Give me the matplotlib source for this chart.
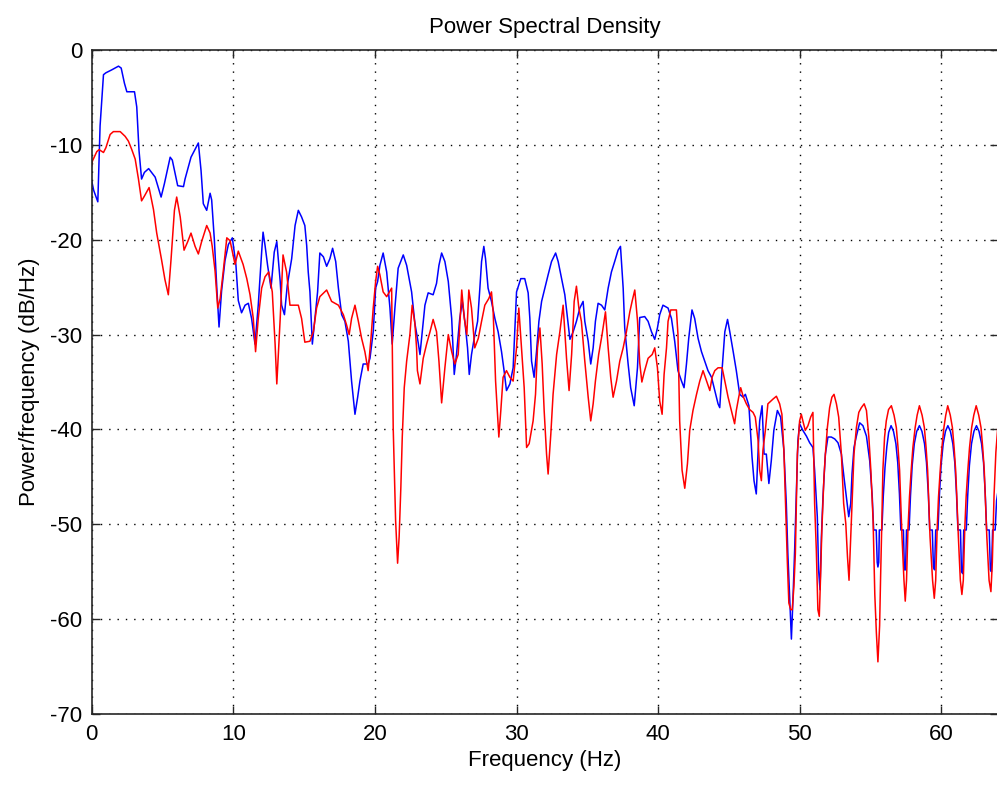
import matplotlib
matplotlib.use("Agg")
import matplotlib.pyplot as plt

# PSD estimates of the two channels, frequency in Hz, power in dB/Hz
blue_freq = [
    0.0, 0.14, 0.43, 0.59, 0.83, 1.0, 1.4, 1.89, 2.08, 2.31, 2.48, 3.02, 3.18, 3.34,
    3.52, 3.72, 4.02, 4.48, 4.9, 5.13, 5.54, 5.69, 6.07, 6.48, 6.59, 7.01, 7.53, 7.72,
    7.88, 8.12, 8.36, 8.47, 8.66, 8.83, 8.99, 9.17, 9.41, 9.65, 9.93, 10.18, 10.35,
    10.58, 10.83, 11.06, 11.29, 11.53, 11.76, 12.0, 12.1, 12.24, 12.42, 12.66, 12.89,
    13.07, 13.31, 13.41, 13.61, 13.81, 14.12, 14.36, 14.59, 14.82, 15.05, 15.18, 15.29,
    15.41, 15.58, 15.76, 15.95, 16.11, 16.36, 16.59, 16.82, 17.01, 17.23, 17.42, 17.65,
    17.88, 18.12, 18.35, 18.59, 18.78, 18.94, 19.17, 19.52, 19.65, 19.88, 20.05, 20.19,
    20.35, 20.58, 20.83, 21.06, 21.22, 21.41, 21.64, 22.0, 22.24, 22.59, 22.82, 23.06,
    23.18, 23.34, 23.53, 23.76, 24.11, 24.35, 24.52, 24.71, 24.94, 25.18, 25.42, 25.6,
    25.76, 25.99, 26.17, 26.35, 26.54, 26.66, 26.82, 27.01, 27.25, 27.41, 27.53, 27.69,
    27.81, 27.99, 28.23, 28.47, 28.7, 28.94, 29.12, 29.29, 29.53, 29.76, 30.0, 30.3,
    30.58, 30.82, 30.94, 31.06, 31.24, 31.41, 31.58, 31.77, 32.0, 32.23, 32.47, 32.76,
    32.94, 33.18, 33.41, 33.6, 33.77, 34.0, 34.23, 34.47, 34.7, 34.82, 35.06, 35.24,
    35.41, 35.57, 35.76, 36.0, 36.23, 36.47, 36.7, 36.93, 37.17, 37.34, 37.53, 37.64,
    37.88, 38.06, 38.31, 38.54, 38.7, 39.05, 39.29, 39.53, 39.76, 39.95, 40.11, 40.34,
    40.7, 40.94, 41.17, 41.4, 41.65, 41.83, 42.0, 42.16, 42.39, 42.58, 42.82, 43.06,
    43.29, 43.52, 43.77, 44.0, 44.23, 44.35, 44.51, 44.71, 44.9, 45.06, 45.3, 45.52,
    45.76, 46.0, 46.16, 46.41, 46.63, 46.77, 46.93, 47.06, 47.17, 47.34, 47.48, 47.64,
    47.82, 47.99, 48.17, 48.42, 48.65, 48.88, 49.05, 49.16, 49.29, 49.41, 49.52, 49.64,
    49.76, 49.87, 49.99, 50.22, 50.47, 50.7, 50.93, 51.05, 51.24, 51.33, 51.43, 51.53,
    51.64, 51.81, 51.99, 52.23, 52.47, 52.7, 52.94, 53.12, 53.29, 53.46, 53.6, 53.69,
    53.83, 54.0, 54.23, 54.46, 54.71, 54.94, 55.12, 55.22, 55.4, 55.47, 55.52, 55.58,
    55.62, 55.8, 55.9, 56.02, 56.15, 56.28, 56.45, 56.62, 56.79, 56.92, 57.04, 57.14,
    57.32, 57.39, 57.47, 57.54, 57.72, 57.82, 57.94, 58.09, 58.26, 58.45, 58.63, 58.81,
    58.95, 59.08, 59.18, 59.36, 59.44, 59.52, 59.6, 59.76, 59.86, 59.98, 60.13, 60.29,
    60.46, 60.64, 60.81, 60.95, 61.07, 61.17, 61.35, 61.42, 61.51, 61.58, 61.76, 61.86,
    61.98, 62.13, 62.3, 62.48, 62.66, 62.84, 62.98, 63.1, 63.2, 63.38, 63.46, 63.54,
    63.62, 63.8, 63.9, 64.0,
]
blue_psd = [
    -13.8, -14.8, -16.0, -8.0, -2.6, -2.4, -2.1, -1.7, -1.9, -3.5, -4.4, -4.4, -6.0, -10.6,
    -13.6, -12.9, -12.5, -13.4, -15.5, -14.1, -11.3, -11.6, -14.3, -14.4, -13.6, -11.3, -9.8, -12.7,
    -16.2, -16.9, -15.1, -15.8, -20.0, -25.0, -29.2, -25.4, -22.2, -20.5, -19.8, -22.6, -26.4,
    -27.7, -26.9, -26.7, -28.3, -31.0, -26.9, -21.3, -19.2, -20.6, -22.7, -25.1, -21.3,
    -20.2, -24.4, -26.9, -27.9, -24.8, -22.0, -18.5, -16.9, -17.6, -18.5, -20.6, -23.4,
    -25.5, -31.0, -28.3, -25.5, -21.4, -21.8, -22.8, -22.0, -20.9, -22.3, -25.1, -27.9,
    -28.6, -30.7, -34.9, -38.4, -36.6, -34.9, -33.1, -33.1, -32.5, -29.7, -25.1, -24.4,
    -22.7, -21.4, -23.4, -27.2, -31.0, -27.2, -23.0, -21.6, -22.7, -25.5, -28.8, -30.9,
    -32.1, -29.7, -26.9, -25.6, -25.8, -24.6, -22.7, -21.4, -22.3, -24.4, -28.3, -34.2,
    -32.1, -28.3, -26.5, -28.6, -31.4, -34.2, -32.1, -30.4, -28.6, -25.1, -22.3, -20.7,
    -22.0, -25.1, -26.5, -28.3, -29.7, -31.8, -33.8, -35.9, -35.2, -33.5, -25.5, -24.1,
    -24.1, -25.6, -28.3, -32.8, -34.5, -31.8, -28.6, -26.5, -25.1, -23.7, -22.3, -21.4,
    -22.3, -24.1, -25.8, -28.3, -30.5, -29.7, -28.6, -27.2, -26.5, -28.6, -30.7, -33.1,
    -31.4, -28.6, -26.7, -26.9, -27.4, -25.1, -23.4, -22.3, -21.1, -20.7, -25.1, -29.3,
    -33.1, -35.6, -37.5, -33.5, -28.2, -28.1, -28.6, -29.7, -30.5, -29.3, -27.9, -26.9,
    -27.2, -28.3, -30.7, -33.8, -34.9, -35.6, -33.1, -30.4, -27.4, -28.3, -30.4, -31.8,
    -32.8, -33.8, -34.5, -35.9, -37.3, -37.7, -33.8, -29.7, -28.4, -29.7, -31.8, -33.8,
    -36.3, -36.6, -36.3, -37.5, -42.9, -45.4, -46.8, -42.2, -39.1, -37.5, -42.6, -42.6,
    -45.7, -43.3, -40.1, -38.0, -38.7, -42.2, -47.8, -53.1, -57.9, -62.1, -57.9, -52.7,
    -46.8, -41.2, -39.4, -40.1, -40.7, -41.4, -41.9, -44.3, -49.2, -54.8, -56.9, -51.3,
    -47.1, -42.6, -40.8, -40.8, -41.0, -41.4, -42.6, -45.0, -47.1, -49.2, -47.8, -44.7,
    -41.9, -40.7, -39.3, -39.6, -40.7, -43.3, -47.1, -50.6, -50.6, -54.0, -54.5, -54.0,
    -50.6, -50.6, -47.0, -44.0, -41.8, -40.3, -39.6, -40.2, -41.5, -43.5, -46.8, -50.6,
    -50.6, -54.8, -54.8, -50.6, -50.6, -47.0, -43.8, -41.5, -40.2, -39.6, -40.2, -41.5,
    -43.5, -46.8, -50.6, -50.6, -54.5, -54.8, -50.6, -50.6, -47.0, -43.8, -41.5, -40.2,
    -39.6, -40.2, -41.5, -43.5, -46.8, -50.6, -50.6, -55.0, -55.2, -50.6, -50.6, -47.0,
    -43.8, -41.5, -40.2, -39.6, -40.2, -41.5, -43.5, -46.8, -50.6, -50.6, -54.8, -55.0,
    -50.6, -50.6, -47.5, -46.5,
]

red_freq = [
    0.0, 0.05, 0.36, 0.52, 0.83, 1.0, 1.3, 1.53, 2.01, 2.36, 2.59, 2.83, 3.07, 3.3,
    3.52, 3.72, 4.05, 4.36, 4.59, 4.93, 5.17, 5.41, 5.6, 5.84, 6.0, 6.25, 6.52, 6.78,
    7.01, 7.3, 7.53, 7.76, 8.12, 8.36, 8.51, 8.71, 8.9, 9.07, 9.29, 9.54, 9.77, 10.12,
    10.35, 10.69, 10.95, 11.18, 11.41, 11.57, 11.76, 12.0, 12.24, 12.5, 12.75, 12.95,
    13.07, 13.31, 13.51, 13.76, 14.0, 14.36, 14.59, 14.82, 15.05, 15.41, 15.65, 15.88,
    16.11, 16.59, 16.94, 17.42, 17.77, 18.0, 18.18, 18.35, 18.59, 18.83, 19.06, 19.29,
    19.52, 19.72, 19.88, 20.05, 20.19, 20.35, 20.58, 20.83, 21.18, 21.29, 21.46, 21.6,
    21.71, 21.83, 21.93, 22.07, 22.24, 22.47, 22.63, 22.82, 22.94, 23.0, 23.18, 23.41,
    23.65, 23.89, 24.11, 24.35, 24.52, 24.71, 24.94, 25.18, 25.42, 25.64, 25.88, 26.13,
    26.31, 26.49, 26.63, 26.82, 27.05, 27.3, 27.53, 27.76, 28.04, 28.23, 28.35, 28.52,
    28.66, 28.75, 28.89, 29.05, 29.29, 29.53, 29.76, 30.0, 30.16, 30.35, 30.54, 30.71,
    30.89, 31.17, 31.34, 31.48, 31.65, 31.81, 31.95, 32.12, 32.23, 32.42, 32.58, 32.83,
    33.06, 33.29, 33.53, 33.71, 33.89, 34.07, 34.23, 34.4, 34.58, 34.82, 35.06, 35.24,
    35.41, 35.57, 35.8, 36.04, 36.28, 36.47, 36.65, 36.82, 37.06, 37.29, 37.53, 37.76,
    38.0, 38.16, 38.35, 38.54, 38.7, 38.85, 39.01, 39.29, 39.58, 39.76, 39.95, 40.11,
    40.28, 40.42, 40.59, 40.7, 40.89, 41.29, 41.4, 41.52, 41.69, 41.88, 42.07, 42.23,
    42.46, 42.71, 42.94, 43.17, 43.42, 43.65, 43.81, 44.0, 44.23, 44.52, 44.71, 44.94,
    45.17, 45.4, 45.52, 45.69, 45.83, 46.0, 46.23, 46.46, 46.7, 46.86, 47.06, 47.17,
    47.29, 47.4, 47.57, 47.75, 48.11, 48.35, 48.58, 48.74, 48.88, 49.02, 49.12, 49.23,
    49.36, 49.47, 49.59, 49.69, 49.76, 49.83, 49.99, 50.11, 50.22, 50.39, 50.58, 50.77,
    50.93, 51.05, 51.17, 51.28, 51.38, 51.47, 51.56, 51.71, 51.81, 51.95, 52.11, 52.27,
    52.42, 52.59, 52.75, 52.94, 53.1, 53.25, 53.37, 53.48, 53.6, 53.69, 53.83, 54.0,
    54.17, 54.35, 54.55, 54.71, 54.88, 55.02, 55.18, 55.3, 55.41, 55.52, 55.64, 55.71,
    55.8, 55.87, 55.99, 56.11, 56.27, 56.47, 56.66, 56.82, 56.94, 57.05, 57.12, 57.22,
    57.36, 57.45, 57.54, 57.64, 57.75, 57.87, 57.99, 58.15, 58.29, 58.45, 58.64, 58.8,
    58.92, 59.03, 59.1, 59.2, 59.38, 59.5, 59.6, 59.7, 59.8, 59.92, 60.04, 60.18,
    60.31, 60.45, 60.63, 60.78, 60.9, 61.01, 61.09, 61.2, 61.34, 61.45, 61.55, 61.65,
    61.75, 61.87, 61.99, 62.14, 62.29, 62.46, 62.64, 62.8, 62.92, 63.03, 63.1, 63.21,
    63.37, 63.5, 63.6, 63.72, 63.85, 64.0,
]
red_psd = [
    -12.2, -11.7, -10.7, -10.5, -10.8, -10.3, -8.9, -8.6, -8.6, -9.1, -9.6, -10.5, -11.5, -13.6,
    -15.9, -15.4, -14.5, -16.8, -19.3, -22.1, -24.2, -25.8, -22.1, -16.9, -15.5, -17.6, -21.1, -20.2,
    -19.3, -20.7, -21.5, -20.2, -18.5, -19.3, -20.7, -23.3, -27.2, -26.2, -23.3, -19.8, -20.1, -22.6,
    -21.2, -22.6, -24.1, -25.8, -28.3, -31.8, -28.3, -25.1, -23.9, -23.4, -25.5, -31.0,
    -35.2, -28.3, -21.6, -23.4, -26.9, -26.9, -26.9, -28.3, -30.8, -30.7, -29.7, -27.2,
    -26.0, -25.3, -26.5, -26.9, -27.9, -29.0, -30.0, -28.3, -26.9, -28.6, -30.4, -31.8,
    -33.8, -30.4, -27.2, -24.4, -22.8, -23.7, -25.5, -26.0, -25.1, -39.8, -49.6, -54.1,
    -51.3, -46.1, -40.8, -35.6, -32.8, -30.0, -26.9, -28.8, -31.4, -33.8, -35.2, -32.5,
    -31.0, -29.7, -28.4, -29.7, -32.8, -37.2, -33.5, -30.0, -31.8, -33.1, -32.1, -25.3,
    -28.3, -30.0, -25.3, -27.2, -31.4, -30.4, -28.6, -26.9, -26.2, -25.5, -27.6, -34.9,
    -38.4, -40.8, -38.0, -34.5, -33.8, -34.5, -34.9, -31.4, -27.2, -31.4, -35.6, -41.9,
    -41.5, -39.1, -36.3, -31.4, -29.3, -33.1, -38.0, -42.6, -44.7, -40.5, -36.3, -32.1,
    -29.7, -26.9, -32.5, -35.9, -32.1, -26.5, -24.9, -27.2, -28.6, -32.8, -36.6, -39.1,
    -37.3, -34.9, -32.1, -30.0, -27.6, -31.4, -34.5, -36.6, -34.9, -32.8, -31.4, -29.7,
    -27.6, -26.5, -25.3, -28.5, -33.0, -35.0, -34.0, -32.5, -32.1, -31.4, -33.5, -37.0,
    -38.4, -34.2, -31.4, -28.6, -27.4, -27.4, -30.0, -39.1, -44.3, -46.2, -43.6, -40.1,
    -38.0, -36.3, -34.9, -33.8, -34.9, -35.9, -34.5, -33.8, -33.5, -33.5, -34.9, -36.6,
    -38.0, -39.4, -38.0, -36.6, -35.6, -36.5, -37.3, -37.9, -38.2, -38.7, -41.2, -44.3,
    -45.4, -42.2, -40.1, -37.3, -36.8, -36.5, -37.3, -38.4, -42.2, -48.9, -53.8, -58.3,
    -59.0, -59.0, -56.5, -53.1, -47.8, -42.6, -39.1, -38.4, -39.1, -40.1, -39.6, -38.7,
    -38.2, -47.8, -52.7, -59.0, -59.7, -55.5, -50.6, -45.0, -42.6, -39.8, -37.7, -36.6,
    -36.3, -37.3, -38.7, -42.6, -47.8, -49.9, -53.4, -55.9, -51.3, -47.8, -42.6, -39.8,
    -38.2, -37.7, -37.3, -38.0, -40.8, -44.3, -49.6, -57.4, -61.4, -64.5, -60.7, -55.5,
    -49.6, -44.3, -40.8, -39.1, -37.9, -37.5, -38.5, -39.8, -41.9, -44.3, -47.1, -51.3,
    -55.9, -58.1, -55.9, -50.6, -47.1, -44.3, -41.9, -39.8, -38.5, -37.5, -38.5, -39.8,
    -41.9, -44.3, -47.1, -51.3, -55.9, -57.8, -55.9, -50.6, -47.1, -44.3, -41.9, -39.8,
    -38.5, -37.5, -38.5, -39.8, -41.9, -44.3, -47.1, -51.3, -55.9, -57.4, -55.9, -50.6,
    -47.1, -44.3, -41.9, -39.8, -38.5, -37.5, -38.5, -39.8, -41.9, -44.3, -47.1, -51.3,
    -55.9, -57.1, -54.0, -47.0, -42.4, -39.5,
]

x_ticks = [0, 10, 20, 30, 40, 50, 60]
y_ticks = [-70, -60, -50, -40, -30, -20, -10, 0]

plt.rcParams['font.family'] = ['Liberation Sans', 'DejaVu Sans']
plt.rcParams['font.size'] = 16
plt.rcParams['axes.unicode_minus'] = False

fig = plt.figure(figsize=(9.97, 7.88), dpi=100)
ax = fig.add_axes([0.092, 0.0939, 0.909, 0.8426])

ax.plot(blue_freq, blue_psd, color='#0000ff', linewidth=1.1)
ax.plot(red_freq, red_psd, color='#ff0000', linewidth=1.1)

ax.set_xlim(0, 64)
ax.set_ylim(-70, 0)
ax.set_xticks(x_ticks)
ax.set_yticks(y_ticks)
ax.grid(True, color='black', linestyle=(0, (1.0, 5.0)), linewidth=1.0)
ax.tick_params(direction='in', length=6, width=1, top=True, right=True,
               labelsize=16, pad=7, color='#262626')
for s in ax.spines.values():
    s.set_linewidth(1.2)
    s.set_color('#262626')

ax.set_title('Power Spectral Density', fontsize=16, pad=12)
ax.set_xlabel('Frequency (Hz)', fontsize=16)
ax.set_ylabel('Power/frequency (dB/Hz)', fontsize=16)
ax.xaxis.set_label_coords(0.5, -0.054)
ax.yaxis.set_label_coords(-0.057, 0.5)

fig.savefig('out.png', dpi=100)
